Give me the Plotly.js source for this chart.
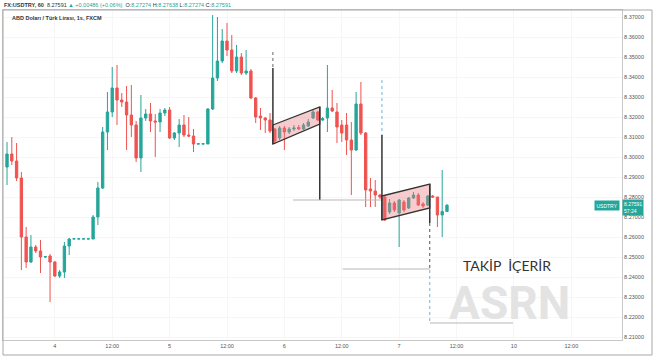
<!DOCTYPE html>
<html>
<head>
<meta charset="utf-8">
<script src="https://cdn.plot.ly/plotly-3.0.1.min.js"></script>
<style>html,body{margin:0;padding:0;background:#fff;}#chart{width:654px;height:358px;}</style>
</head>
<body>
<div id="chart"></div>
<script>
// Hourly candles, FX:USDTRY, from day 3 14:00 to day 7 10:00
const openP = [8.2950,8.3015,8.2980,8.2895,8.2600,8.2475,8.2550,8.2530,8.2500,8.2505,
  8.2475,8.2405,8.2425,8.2555,8.2590,8.2590,8.2590,8.2590,8.2590,8.2700,
  8.2845,8.3125,8.3225,8.3345,8.3285,8.3275,8.3210,8.3160,8.2995,8.3195,
  8.3215,8.3180,8.3175,8.3220,8.3235,8.3095,8.3120,8.3160,8.3110,8.3105,
  8.3065,8.3065,8.3065,8.3240,8.3395,8.3480,8.3580,8.3535,8.3430,8.3500,
  8.3420,8.3430,8.3295,8.3205,8.3195,8.3185,8.3140,8.3095,8.3145,8.3125,
  8.3140,8.3148,8.3140,8.3155,8.3195,8.3225,8.3185,8.3195,8.3245,8.3225,
  8.3160,8.3160,8.3085,8.3035,8.3265,8.3120,8.2840,8.2830,8.2810,8.2800,
  8.2725,8.2770,8.2720,8.2775,8.2745,8.2795,8.2810,8.2765,8.2760,8.2805,
  8.2800,8.2710,8.27274];
const highP = [8.3075,8.3100,8.3070,8.2925,8.2650,8.2610,8.2560,8.2585,8.2505,8.2515,
  8.2480,8.2435,8.2575,8.2595,8.2592,8.2592,8.2592,8.2592,8.2710,8.2875,
  8.3150,8.3325,8.3450,8.3460,8.3320,8.3355,8.3360,8.3180,8.3310,8.3240,
  8.3270,8.3215,8.3240,8.3245,8.3250,8.3125,8.3190,8.3210,8.3200,8.3140,
  8.3067,8.3067,8.3245,8.3710,8.3700,8.3640,8.3670,8.3610,8.3560,8.3520,
  8.3535,8.3440,8.3300,8.3245,8.3200,8.3220,8.3145,8.3155,8.3155,8.3150,
  8.3160,8.3160,8.3170,8.3190,8.3235,8.3230,8.3200,8.3460,8.3335,8.3270,
  8.3185,8.3220,8.3175,8.3325,8.3375,8.3125,8.2895,8.2885,8.2815,8.2805,
  8.2790,8.2780,8.2790,8.2785,8.2800,8.2825,8.2820,8.2775,8.2810,8.2810,
  8.2800,8.2935,8.27638];
const lowP = [8.2860,8.2960,8.2880,8.2435,8.2445,8.2470,8.2520,8.2420,8.2495,8.2275,
  8.2400,8.2395,8.2395,8.2510,8.2589,8.2589,8.2589,8.2589,8.2590,8.2660,
  8.2840,8.3035,8.3200,8.3160,8.3250,8.3035,8.3100,8.2975,8.2925,8.3180,
  8.3125,8.3000,8.3125,8.3205,8.3090,8.3085,8.3050,8.3100,8.3100,8.3025,
  8.3064,8.3064,8.3065,8.3235,8.3380,8.3470,8.3505,8.3420,8.3420,8.3410,
  8.3410,8.3290,8.3170,8.3135,8.3120,8.3120,8.3065,8.3085,8.3035,8.3115,
  8.3130,8.3135,8.3135,8.3150,8.3190,8.3180,8.3180,8.3125,8.3225,8.3070,
  8.3075,8.3010,8.2810,8.3030,8.3110,8.2750,8.2750,8.2750,8.2790,8.2680,
  8.2715,8.2725,8.2550,8.2725,8.2740,8.2790,8.2755,8.2745,8.2755,8.2795,
  8.2650,8.2600,8.27274];
const closeP = [8.3015,8.2980,8.2895,8.2600,8.2475,8.2550,8.2530,8.2500,8.2502,8.2475,
  8.2405,8.2425,8.2555,8.2590,8.2591,8.2591,8.2591,8.2591,8.2700,8.2845,
  8.3125,8.3225,8.3345,8.3285,8.3275,8.3210,8.3160,8.2995,8.3195,8.3215,
  8.3180,8.3175,8.3220,8.3235,8.3095,8.3120,8.3160,8.3110,8.3105,8.3065,
  8.3066,8.3066,8.3240,8.3395,8.3480,8.3580,8.3535,8.3430,8.3500,8.3420,
  8.3430,8.3295,8.3200,8.3195,8.3185,8.3130,8.3080,8.3145,8.3125,8.3140,
  8.3145,8.3140,8.3160,8.3175,8.3225,8.3185,8.3192,8.3245,8.3230,8.3150,
  8.3120,8.3085,8.3035,8.3265,8.3120,8.2835,8.2830,8.2810,8.2800,8.2685,
  8.2770,8.2735,8.2785,8.2735,8.2795,8.2810,8.2760,8.2755,8.2805,8.2800,
  8.2710,8.2727,8.27591];
const xTickVals = [10,22,34,46,58,70,82,94,106,118];
const xTickText = ['4','12:00','5','12:00','6','12:00','7','12:00','10','12:00'];

const hourIdx = openP.map((_, i) => i);
const GREEN = '#26a69a', RED = '#ef5350';

const trace = {
  type: 'candlestick', x: hourIdx, open: openP, high: highP, low: lowP, close: closeP,
  increasing: {line: {color: GREEN, width: 1}, fillcolor: GREEN},
  decreasing: {line: {color: RED, width: 1}, fillcolor: RED},
  whiskerwidth: 0, hoverinfo: 'skip'
};

const gray = '#b8b8b8';
function seg(x0,y0,x1,y1,color,dash,w){return {type:'line',xref:'x',yref:'y',x0,y0,x1,y1,layer:'above',line:{color,width:w||1.2,dash:dash||'solid'}};}
const shapes = [
  // flag 1
  seg(55.6,8.3525,55.6,8.3445,'#666','dot',1),
  seg(55.6,8.3445,55.6,8.3065,'#333','solid',1.5),
  {type:'path',xref:'x',yref:'y',layer:'above',path:'M55.6,8.3160 L65.4,8.3250 L65.4,8.3165 L55.6,8.3065 Z',
   fillcolor:'rgba(235,120,125,0.38)',line:{color:'#333',width:1.3}},
  seg(65.4,8.3250,65.4,8.2785,'#333','solid',1.5),
  seg(59.8,8.2785,78.6,8.2785,gray,'solid',1.2),
  // flag 2
  seg(78.4,8.3385,78.4,8.3110,'#6db3dd','dot',1),
  seg(78.4,8.3110,78.4,8.2685,'#333','solid',1.5),
  {type:'path',xref:'x',yref:'y',layer:'above',path:'M78.4,8.2805 L88.4,8.2865 L88.4,8.2745 L78.4,8.2685 Z',
   fillcolor:'rgba(235,120,125,0.38)',line:{color:'#333',width:1.3}},
  seg(88.4,8.2865,88.4,8.2670,'#333','solid',1.5),
  seg(88.4,8.2670,88.4,8.2435,'#555','dot',1),
  seg(88.4,8.2435,88.4,8.2170,'#6db3dd','dot',1),
  seg(70.2,8.2440,88.4,8.2440,gray,'solid',1.2),
  seg(88.4,8.2170,105.8,8.2170,gray,'solid',1.2),
  // outer frame
  {type:'rect',xref:'paper',yref:'paper',x0:0,y0:-0.0455,x1:1.0485,y1:1,layer:'above',line:{color:'#a8a8a8',width:1}}
];

const pfont = 'Liberation Sans, Arial, sans-serif';
const annotations = [
  {xref:'paper',yref:'paper',x:-0.002,y:1.016,xanchor:'left',yanchor:'middle',showarrow:false,
   font:{family:pfont,size:5.5,color:'#333'},
   text:'<b>FX:USDTRY, 60</b>  8.27591 <span style="color:#26a69a">▲ +0.00486 (+0.06%)</span>  O:<span style="color:#26a69a">8.27274</span> H:<span style="color:#26a69a">8.27638</span> L:<span style="color:#26a69a">8.27274</span> C:<span style="color:#26a69a">8.27591</span>'},
  {xref:'paper',yref:'paper',x:0.011,y:0.976,xanchor:'left',yanchor:'middle',showarrow:false,
   font:{family:pfont,size:5.5,color:'#333',weight:'bold'},text:'ABD Doları / Türk Lirası, 1s, FXCM'},
  {xref:'paper',yref:'paper',x:0.9965,y:0.409,xanchor:'right',yanchor:'middle',showarrow:false,
   bgcolor:GREEN,borderpad:1.5,font:{family:pfont,size:5,color:'#fff'},text:'USDTRY'},
  {xref:'paper',yref:'paper',x:1.0,y:0.402,xanchor:'left',yanchor:'middle',showarrow:false,align:'left',
   bgcolor:GREEN,borderpad:1,font:{family:pfont,size:5,color:'#fff'},text:'8.27591<br>57:24'},
  {xref:'paper',yref:'paper',x:0.814,y:0.226,xanchor:'center',yanchor:'middle',showarrow:false,
   font:{family:'Lato, Open Sans, sans-serif',size:14,color:'#333'},text:'TAKİP  İÇERİR'},
  {xref:'paper',yref:'paper',x:0.818,y:0.112,xanchor:'center',yanchor:'middle',showarrow:false,
   font:{family:'Roboto, sans-serif',size:46,color:'#e3e3e3',weight:'bold'},text:'ASRN'}
];

const layout = {
  width:654, height:358, paper_bgcolor:'#fff', plot_bgcolor:'#fff',
  margin:{l:3,r:32,t:10,b:18}, showlegend:false, dragmode:false,
  font:{family:pfont,size:5.5,color:'#555'},
  xaxis:{range:[-0.84,128.6],tickmode:'array',tickvals:xTickVals,ticktext:xTickText,
    showgrid:true,gridcolor:'#f6f6f6',zeroline:false,showline:true,mirror:true,linecolor:'#c8c8c8',
    ticks:'',rangeslider:{visible:false},tickfont:{size:5.5,color:'#555'},fixedrange:true},
  yaxis:{side:'right',range:[8.2085,8.3735],tick0:8.21,dtick:0.01,tickformat:'.5f',
    showgrid:true,gridcolor:'#f6f6f6',zeroline:false,showline:true,mirror:true,linecolor:'#c8c8c8',
    ticks:'',tickfont:{size:5.5,color:'#555'},fixedrange:true},
  shapes, annotations
};

Plotly.newPlot('chart',[trace],layout,{staticPlot:true,displayModeBar:false});
</script>
</body>
</html>
